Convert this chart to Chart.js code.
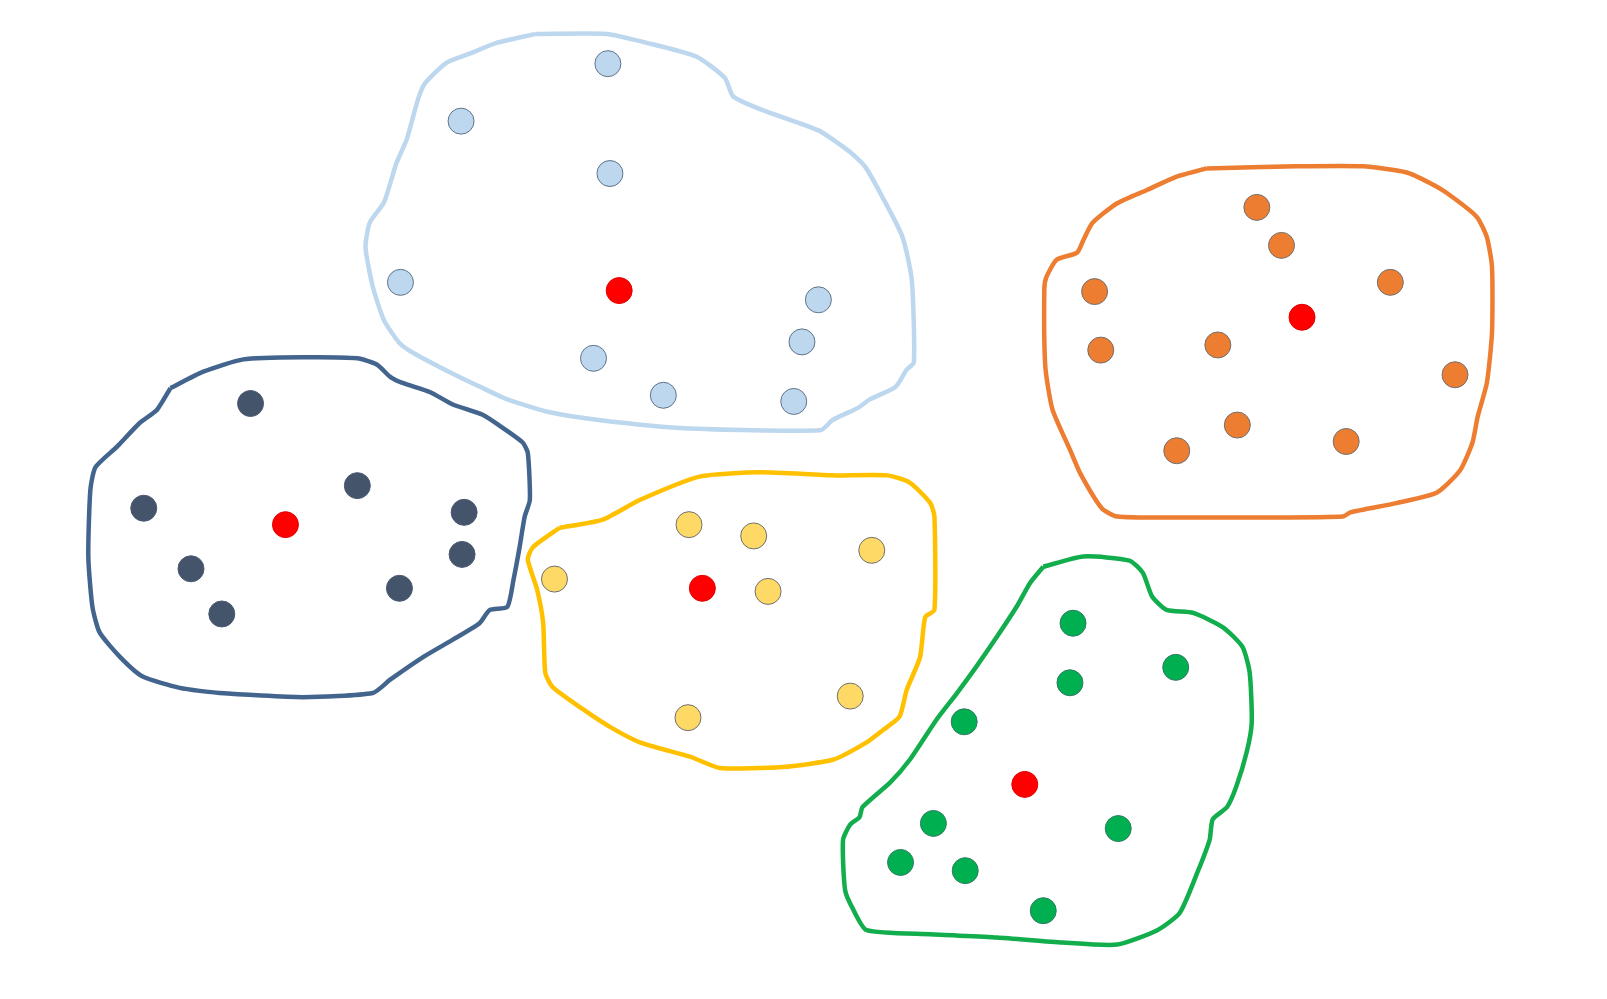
<!DOCTYPE html>
<html>
<head>
<meta charset="utf-8">
<script src="https://cdn.jsdelivr.net/npm/chart.js@4"></script>
<style>
  html, body { margin: 0; padding: 0; background: #fff; }
  #wrap { width: 100vw; height: 100vh; }
</style>
</head>
<body>
<div id="wrap"><canvas id="clusters"></canvas></div>
<script>
// points, [x, y] in picture units (y grows down)
const lightBluePts = [[592,62],[449,118],[594,169],[390,275],[797,292],[781,333],[578,349],[646,385],[773,391]];
const navyPts = [[244,393],[140,495],[348,473],[452,499],[450,540],[186,554],[389,573],[216,598]];
const yellowPts = [[671,511],[734,522],[849,536],[540,564],[748,576],[828,678],[670,699]];
const orangePts = [[1224,202],[1248,239],[1066,284],[1354,275],[1072,341],[1186,336],[1417,365],[1205,414],[1146,439],[1311,430]];
const greenPts = [[1045,607],[1145,650],[1042,665],[939,703],[909,802],[1089,807],[877,840],[940,848],[1016,887]];
const centroids = [[603,283],[278,511],[684,573],[1268,309],[998,764]];

// hand drawn outlines, traced round each cluster
const lightBlueLine = [[522,33],[591,33],[627,41],[678,55],[706,76],[714,94],[742,107],[797,127],[829,149],[843,163],[861,195],[879,231],[888,273],[890,353],[883,360],[872,377],[847,389],[836,397],[811,409],[799,419],[666,417],[583,409],[533,401],[494,389],[468,377],[439,363],[403,344],[389,334],[374,312],[363,279],[356,241],[360,217],[374,197],[386,159],[396,136],[407,97],[414,81],[435,61],[458,52],[483,42],[522,33]];
const navyLine = [[166,378],[198,362],[237,350],[295,348],[348,349],[367,355],[380,367],[392,373],[419,382],[441,394],[470,404],[490,417],[509,431],[514,441],[516,487],[511,503],[506,533],[500,565],[494,591],[477,594],[467,607],[441,623],[412,640],[380,662],[363,675],[295,679],[214,675],[175,670],[139,659],[117,640],[97,616],[90,591],[86,542],[88,477],[93,455],[114,435],[136,412],[153,399],[166,378]];
const yellowLine = [[545,514],[587,506],[623,487],[682,464],[740,460],[811,463],[864,463],[886,470],[906,490],[910,503],[910,594],[901,601],[896,640],[883,672],[876,698],[860,711],[844,723],[811,740],[762,747],[701,748],[672,737],[623,723],[594,708],[568,691],[538,669],[531,655],[529,607],[523,574],[514,545],[519,533],[545,514]];
const orangeLine = [[1175,164],[1263,162],[1327,162],[1370,168],[1392,178],[1409,188],[1438,211],[1448,231],[1453,260],[1453,324],[1448,373],[1439,406],[1434,431],[1422,458],[1399,480],[1360,490],[1315,499],[1308,503],[1230,504],[1149,504],[1088,503],[1073,495],[1052,461],[1042,438],[1025,399],[1018,357],[1017,282],[1019,270],[1029,253],[1049,246],[1055,234],[1064,217],[1088,198],[1117,185],[1146,172],[1175,164]];
const greenLine = [[1016,552],[1055,542],[1100,546],[1113,558],[1122,581],[1136,594],[1162,597],[1191,611],[1210,630],[1217,655],[1219,704],[1214,733],[1204,766],[1195,786],[1181,798],[1178,818],[1166,850],[1149,889],[1127,906],[1088,920],[1035,918],[971,913],[906,910],[844,906],[831,886],[823,867],[821,818],[828,803],[837,796],[840,786],[867,762],[886,740],[912,701],[932,675],[951,649],[971,620],[990,591],[1003,568],[1016,552]];

const xy = arr => arr.map(p => ({ x: p[0], y: p[1] }));

function dots(pts, fill, border) {
  return {
    data: xy(pts),
    pointRadius: 13,
    pointBackgroundColor: fill,
    pointBorderColor: border,
    pointBorderWidth: 1,
    showLine: false,
    order: 1
  };
}

function outline(pts, color) {
  return {
    data: xy(pts),
    showLine: true,
    pointRadius: 0,
    borderColor: color,
    borderWidth: 4.5,
    tension: 0.2,
    fill: false,
    order: 2
  };
}

new Chart(document.getElementById("clusters"), {
  type: 'scatter',
  data: {
    datasets: [
      outline(lightBlueLine, '#bdd7ee'),
      outline(navyLine, '#43658d'),
      outline(yellowLine, '#ffc000'),
      outline(orangeLine, '#ed7d31'),
      outline(greenLine, '#12ad4c'),
      dots(lightBluePts, '#bdd7ee', '#5f7388'),
      dots(navyPts, '#44546a', '#4a5a72'),
      dots(yellowPts, '#ffd966', '#6f6f6f'),
      dots(orangePts, '#ed7d31', '#707070'),
      dots(greenPts, '#00b050', '#2f7a62'),
      dots(centroids, '#ff0000', '#e00000')
    ]
  },
  options: {
    responsive: true,
    maintainAspectRatio: false,
    animation: false,
    layout: { padding: 0, autoPadding: false },
    plugins: {
      legend: { display: false },
      tooltip: { enabled: false }
    },
    scales: {
      x: { type: 'linear', min: 0, max: 1565, display: false },
      y: { type: 'linear', min: 0, max: 973, reverse: true, display: false }
    }
  }
});
</script>
</body>
</html>
